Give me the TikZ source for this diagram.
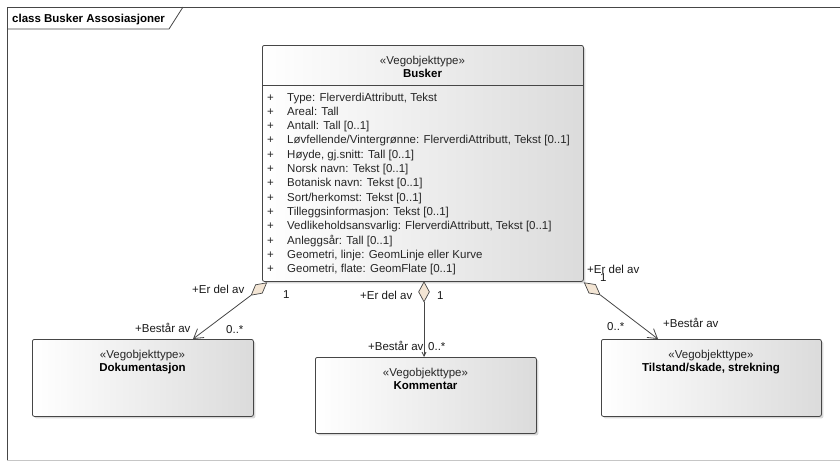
\documentclass[tikz,border=0pt]{standalone}
\usepackage{fontspec}
\setmainfont{Liberation Sans}
\usetikzlibrary{shapes.geometric,arrows.meta,shadows}
\definecolor{aggfill}{RGB}{243,229,212}
\definecolor{linec}{RGB}{70,70,70}
\begin{document}
\begin{tikzpicture}[x=1pt,y=-1pt,
  every node/.style={font=\fontsize{11.5}{13}\selectfont, inner sep=0pt},
  cls/.style={draw=linec, line width=0.8pt, rounded corners=2pt, left color=white, right color=black!14,
    drop shadow={shadow xshift=2pt, shadow yshift=-2pt, fill=black!30, opacity=0.5}, anchor=north west},
  agg/.style={diamond, draw=linec, line width=0.7pt, fill=aggfill, minimum width=20pt, minimum height=11pt, inner sep=0pt},
  assoc/.style={draw=linec, line width=0.8pt, -{Straight Barb[length=9pt,width=11pt,line width=0.8pt]}},
  assocs/.style={draw=linec, line width=0.8pt, -{Straight Barb[length=4pt,width=4pt,line width=0.8pt]}},
  lab/.style={anchor=base west, text=black!90},
  stereo/.style={anchor=base, text=black!85},
  cname/.style={anchor=base, font=\fontsize{11.5}{13}\selectfont\bfseries},
  attr/.style={anchor=base west, text=black!85}]
\useasboundingbox (0,0) rectangle (840,461);
% frame
\draw[draw=gray!45, line width=0.8pt] (7,460) -- (840,460);
\draw[draw=linec, line width=0.8pt] (7,460) -- (7,7) -- (840,7);
\draw[draw=linec, line width=0.8pt] (7,29) -- (169,29) -- (183,7);
\node[anchor=base west, font=\fontsize{11.5}{13}\selectfont\bfseries] (title) at (12,22) {class Busker Assosiasjoner};

% classes
\node[cls, minimum width=321pt, minimum height=236pt] (busker) at (262,45) {};
\draw[draw=linec, line width=0.8pt] (busker.west |- 0,85) -- (busker.east |- 0,85);
\node[stereo] (bst) at (422.5,64) {«Vegobjekttype»};
\node[cname] (bnm) at (422.5,77) {Busker};
\foreach \t [count=\i from 0] in {
  {Type: FlerverdiAttributt, Tekst},
  {Areal: Tall},
  {Antall: Tall [0..1]},
  {Løvfellende/Vintergrønne: FlerverdiAttributt, Tekst [0..1]},
  {Høyde, gj.snitt: Tall [0..1]},
  {Norsk navn: Tekst [0..1]},
  {Botanisk navn: Tekst [0..1]},
  {Sort/herkomst: Tekst [0..1]},
  {Tilleggsinformasjon: Tekst [0..1]},
  {Vedlikeholdsansvarlig: FlerverdiAttributt, Tekst [0..1]},
  {Anleggsår: Tall [0..1]},
  {Geometri, linje: GeomLinje eller Kurve},
  {Geometri, flate: GeomFlate [0..1]}} {
  \node[attr] (p\i) at (267,101+14.33*\i) {+};
  \node[attr] (a\i) at (287,101+14.33*\i) {\t};
}

\node[cls, minimum width=221pt, minimum height=77pt] (dok) at (32,339) {};
\node[stereo] (dst) at (142.5,358) {«Vegobjekttype»};
\node[cname] (dnm) at (142.5,371) {Dokumentasjon};

\node[cls, minimum width=221pt, minimum height=76pt] (kom) at (315,357) {};
\node[stereo] (kst) at (425.5,376) {«Vegobjekttype»};
\node[cname] (knm) at (425.5,389) {Kommentar};

\node[cls, minimum width=220pt, minimum height=77pt] (til) at (601,339) {};
\node[stereo] (tst) at (711,358) {«Vegobjekttype»};
\node[cname] (tnm) at (711,371) {Tilstand/skade, strekning};

% aggregations
\node[agg, rotate=38.7, anchor=east] (d1) at (267,282.5) {};
\coordinate (dokT) at (193,339);
\draw[assoc] (d1.west) -- (dokT);

\node[agg, rotate=-90, anchor=west] (d2) at (424,281.5) {};
\coordinate (komT) at (424,357);
\draw[assocs] (d2.east) -- (komT);

\node[agg, rotate=-37.4, anchor=west] (d3) at (584,282.5) {};
\coordinate (tilT) at (658,339);
\draw[assoc] (d3.east) -- (tilT);

% labels
\node[lab] (l1a) at (192,293) {+Er del av};
\node[lab] (l1b) at (283,298) {1};
\node[lab] (l1c) at (135,332) {+Består av};
\node[lab] (l1d) at (226,333) {0..*};

\node[lab] (l2a) at (360,299) {+Er del av};
\node[lab] (l2b) at (437,299) {1};
\node[lab] (l2c) at (368,350) {+Består av};
\node[lab] (l2d) at (428,350) {0..*};

\node[lab] (l3a) at (587,273) {+Er del av};
\node[lab] (l3b) at (600,281) {1};
\node[lab] (l3c) at (607,330) {0..*};
\node[lab] (l3d) at (663,327) {+Består av};
\end{tikzpicture}
\end{document}
